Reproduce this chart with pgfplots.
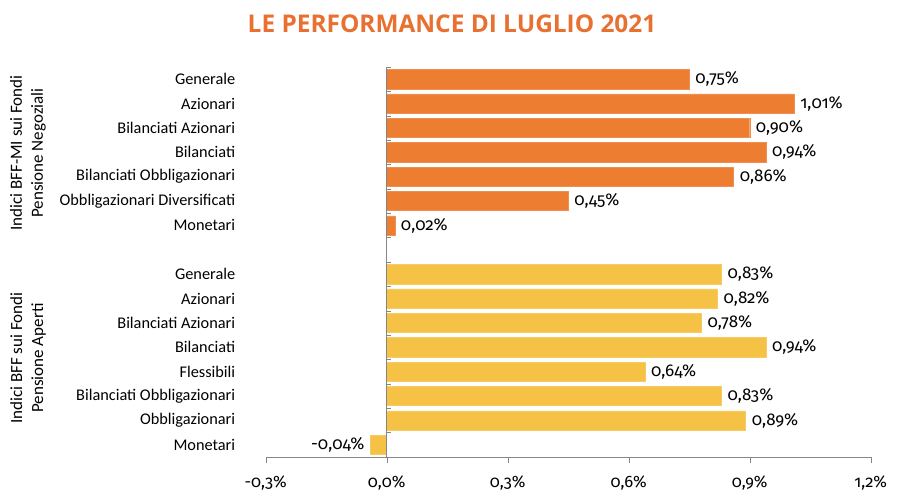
\documentclass[border=0pt]{standalone}
\usepackage{fontspec}
\setmainfont{Carlito}
\newfontfamily\numfont[Numbers=OldStyle]{Fira Sans}
\newfontfamily\titlefont{Open Sans}
\usepackage{pgfplots}
\pgfplotsset{compat=1.18}
\definecolor{barorange}{RGB}{237,125,49}
\definecolor{baryellow}{RGB}{245,194,70}
\definecolor{titleorange}{RGB}{232,112,48}
\definecolor{axisgray}{RGB}{134,134,134}

\begin{document}
\begin{tikzpicture}
\useasboundingbox (-265.7pt,-43pt) rectangle (634.3pt,457pt);
\begin{axis}[
  at={(302.5pt,195pt)}, anchor=center,
  scale only axis, width=605pt, height=390pt,
  xbar, bar shift=0pt, bar width=0.79,
  y dir=reverse,
  xmin=-0.3, xmax=1.2, ymin=-0.5, ymax=15.5,
  axis x line*=bottom, axis y line*=left,
  x axis line style={axisgray, -},
  y axis line style={draw=none},
  xtick={-0.3,0,0.3,0.6,0.9,1.2},
  xticklabel={\pgfmathprintnumber[fixed,fixed zerofill,precision=1,use comma]{\tick}\%},
  xticklabel style={font=\numfont\fontsize{16.5}{18}\selectfont, yshift=-9pt},
  tick align=outside, major tick length=6pt,
  xtick style={axisgray},
  ytick={0,1,2,3,4,5,6,8,9,10,11,12,13,14,15},
  yticklabels={Generale,Azionari,Bilanciati Azionari,Bilanciati,Bilanciati Obbligazionari,Obbligazionari Diversificati,Monetari,
    Generale,Azionari,Bilanciati Azionari,Bilanciati,Flessibili,Bilanciati Obbligazionari,Obbligazionari,Monetari},
  ytick style={draw=none},
  yticklabel style={font=\fontsize{16.3}{18}\selectfont, xshift=-21pt},
  /pgf/number format/assume math mode=true,
  nodes near coords={\pgfmathprintnumber[fixed,fixed zerofill,precision=2,use comma]{\pgfplotspointmeta}\%},
  nodes near coords align={horizontal},
  nodes near coords style={font=\numfont\fontsize{17}{19}\selectfont, text=black, inner xsep=6pt},
  clip=false,
]
% fondi pensione negoziali
\addplot[fill=barorange, draw=barorange!85!white] coordinates {
  (0.75,0) (1.01,1) (0.90,2) (0.94,3) (0.86,4) (0.45,5) (0.02,6)
};
% fondi pensione aperti
\addplot[fill=baryellow, draw=baryellow!85!white] coordinates {
  (0.83,8) (0.82,9) (0.78,10) (0.94,11) (0.64,12) (0.83,13) (0.89,14) (-0.04,15)
};
\draw[axisgray] (axis cs:0,-0.5) -- (axis cs:0,15.5);
\pgfplotsinvokeforeach{-0.5,0.5,...,15.5}{
  \draw[axisgray] (axis cs:0,#1) -- ([xshift=4pt]axis cs:0,#1);
}
\end{axis}
\node[font=\titlefont\bfseries\fontsize{24.4}{28}\selectfont, text=titleorange] at (186.3pt,433pt) {LE PERFORMANCE DI LUGLIO 2021};
\node[rotate=90, align=center, font=\fontsize{17}{21}\selectfont] at (-237.7pt,304pt) {Indici BFF-MI sui Fondi\\Pensione Negoziali};
\node[rotate=90, align=center, font=\fontsize{17}{21}\selectfont] at (-237.7pt,99pt) {Indici BFF sui Fondi\\Pensione Aperti};
\end{tikzpicture}
\end{document}
